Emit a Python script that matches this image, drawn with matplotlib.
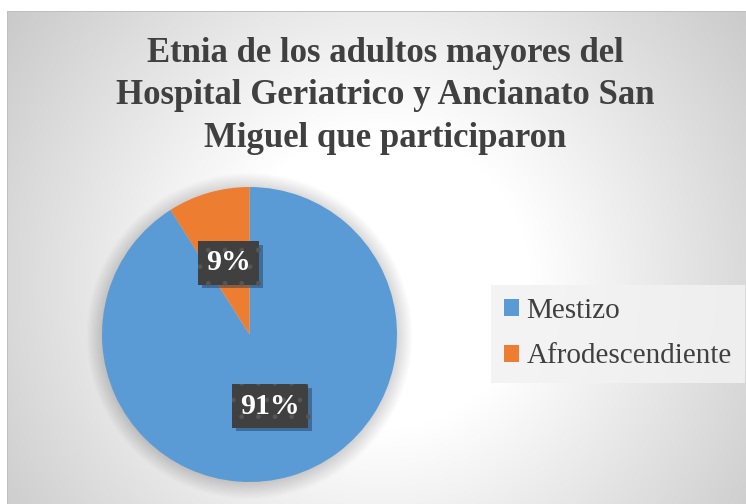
import numpy as np
import matplotlib
matplotlib.use('Agg')
import matplotlib.pyplot as plt
import matplotlib.patheffects as pe
from matplotlib.patches import Patch, Circle

# data
categories = ['Mestizo', 'Afrodescendiente']
values = [91, 9]
colors = ['#5B9BD5', '#ED7D31']
title_lines = ['Etnia de los adultos mayores del',
               'Hospital Geriatrico y Ancianato San',
               'Miguel que participaron']

W, H = 746, 504
fig = plt.figure(figsize=(W / 100.0, H / 100.0), dpi=100)

# background: white margin + radial gray gradient in the chart area
yy, xx = np.mgrid[0:H, 0:W]
r = np.hypot(xx - 380, yy - 280)
t = np.clip((r - 150) / 340.0, 0, 1)
bg = 1 - 0.23 * t
bg[:11, :] = 1.0
bg[:, :7] = 1.0
bg[11, 7:] = 0.75
bg[11:, 7] = 0.75
bgax = fig.add_axes([0, 0, 1, 1])
bgax.imshow(np.dstack([bg, bg, bg]), extent=(0, W, H, 0), aspect='auto', interpolation='bilinear')
bgax.set_axis_off()

# title
for i, line in enumerate(title_lines):
    fig.text(385 / W, 1 - (62 + i * 42.5) / H, line, ha='center', va='baseline',
             fontsize=25, fontweight='bold', family='Liberation Serif', color='#404040')

# pie
cx, cy, R = 249.5, 334.5, 147.5
lim = 1.15
side = 2 * lim * R
ax = fig.add_axes([(cx - lim * R) / W, (H - cy - lim * R) / H, side / W, side / H])
ax.set_xlim(-lim, lim)
ax.set_ylim(-lim, lim)
ax.set_axis_off()

# soft glow around the pie
for k in range(14):
    ax.add_patch(Circle((0, -0.01), 1.0 + 0.008 * k, color='black', alpha=0.012, lw=0, zorder=0))

wedges, texts, autotexts = ax.pie(values, colors=colors, startangle=90, counterclock=False,
                                  autopct='%1.0f%%', pctdistance=0.505, radius=1.0,
                                  wedgeprops=dict(linewidth=0))
for w in wedges:
    w.set_zorder(2)
for at in autotexts:
    at.set_color('white')
    at.set_fontsize(21.5)
    at.set_fontweight('bold')
    at.set_family('Liberation Serif')
    at.set_zorder(5)
    at.set_bbox(dict(boxstyle='square,pad=0.27', facecolor='#404040', edgecolor='#565656',
                     linewidth=0, hatch='.'))
    at.get_bbox_patch().set_path_effects([
        pe.SimplePatchShadow(offset=(2.5, -2.5), shadow_rgbFace='#1f3550', alpha=0.45),
        pe.Normal()])
ax.set_xlim(-lim, lim)
ax.set_ylim(-lim, lim)

# legend
handles = [Patch(facecolor=c, edgecolor='none') for c in colors]
leg = fig.legend(handles, categories, loc='upper left', bbox_to_anchor=(491 / W, 1 - 285 / H),
                 bbox_transform=fig.transFigure, borderaxespad=0, frameon=True,
                 prop=dict(family='Liberation Serif', size=21), labelcolor='#404040',
                 handlelength=0.52, handleheight=0.52, handletextpad=0.25,
                 labelspacing=0.66, borderpad=0.45, fancybox=False)
leg.get_frame().set_facecolor('#f2f2f2')
leg.get_frame().set_edgecolor('none')
leg.get_frame().set_alpha(0.85)

fig.savefig('out.png', dpi=100)
